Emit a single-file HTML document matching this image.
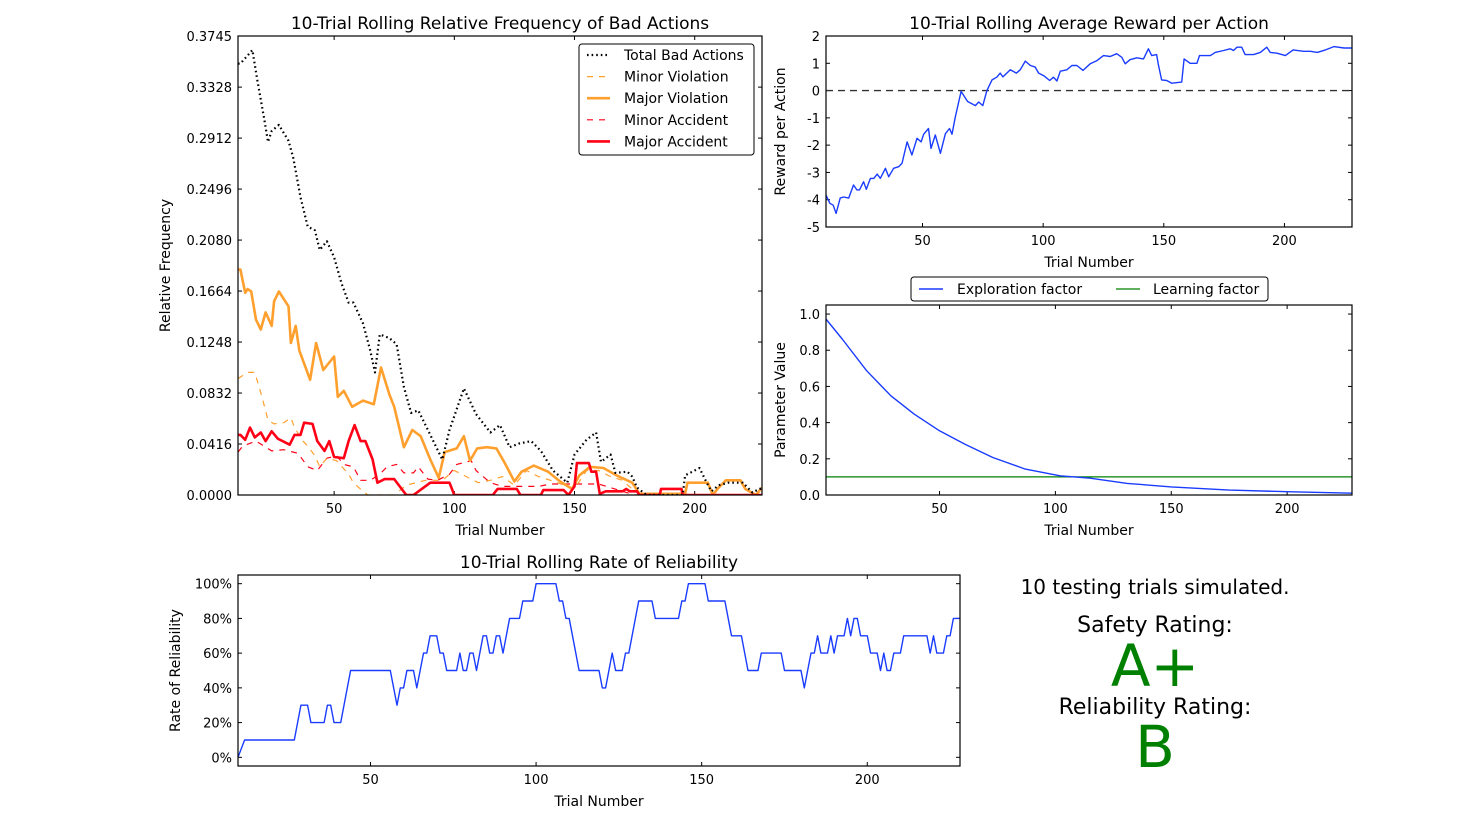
<!DOCTYPE html>
<html><head><meta charset="utf-8">
<style>
body{margin:0;background:#fff;}
svg{display:block;font-family:"DejaVu Sans","Liberation Sans",sans-serif;}
</style></head>
<body>
<svg id="fig" width="1462" height="829" viewBox="0 0 1462 829">
<text x="1155" y="594" font-size="20" text-anchor="middle">10 testing trials simulated.</text>
<text x="1155" y="632" font-size="22" text-anchor="middle">Safety Rating:</text>
<text x="1155" y="686" font-size="58" fill="#008000" text-anchor="middle">A+</text>
<text x="1155" y="714" font-size="22" text-anchor="middle">Reliability Rating:</text>
<text x="1155" y="767" font-size="58" fill="#008000" text-anchor="middle">B</text>
</svg>
<script>
// ---------- data ----------
const badTotalT=[10,11,16,18,21,22.5,24,27,31,33,36,39,42,44,47,50,53,56,58,62,65,67,69,73,76,79,82,85,89,93,95,98,104,109,115,119,123,127,132,136,141,147,150,155,159,161,165,167,172,174,176,180,195,196,202,205,207,210,214,220,224,227,228];
const badTotalV=[0.352,0.352,0.363,0.339,0.306,0.288,0.297,0.302,0.289,0.275,0.243,0.219,0.216,0.200,0.207,0.194,0.173,0.157,0.157,0.140,0.118,0.100,0.131,0.128,0.123,0.088,0.067,0.069,0.053,0.037,0.029,0.053,0.087,0.066,0.051,0.057,0.039,0.042,0.044,0.036,0.020,0.010,0.033,0.045,0.051,0.027,0.033,0.018,0.019,0.015,0.006,0,0,0.016,0.022,0.010,0.003,0.008,0.010,0.010,0.002,0.005,0.005];
const minViolT=[10,14,17,20,22.5,25,29,32,33.5,37,39,42,44,47,51,56,58,62,64,75,80,88,95,100,105,110,115,120,125,130,135,140,150,155,160,165,170,175,180,228];
const minViolV=[0.095,0.1,0.1,0.08,0.061,0.058,0.059,0.063,0.055,0.044,0.04,0.032,0.023,0.03,0.028,0.017,0.01,0.003,0,0,0.008,0.012,0.012,0.02,0.015,0.01,0.012,0.015,0.008,0.02,0.015,0.012,0.005,0.02,0.02,0.015,0.012,0.003,0,0];
const majViolT=[10,11,13,14,15.5,17.5,19.5,21.5,24,25,27,31,32,34,35.5,40,42.5,45.5,50,51.5,54,57.5,62,66.5,69.5,73,75,79,82.5,86,90,93.5,96,101,104,106.5,109.5,113.5,117.5,121,125,128,133,139,144,149,152,156.5,162,167.5,174,177,196,197,205.5,207.5,210,213,219,221,225.5,228];
const majViolV=[0.184,0.184,0.165,0.168,0.166,0.143,0.135,0.149,0.138,0.158,0.166,0.154,0.124,0.138,0.118,0.094,0.124,0.102,0.113,0.08,0.085,0.072,0.077,0.074,0.104,0.082,0.072,0.039,0.053,0.048,0.029,0.014,0.035,0.038,0.048,0.028,0.038,0.039,0.038,0.026,0.011,0.019,0.024,0.019,0.011,0.005,0.016,0.023,0.022,0.016,0.01,0.001,0.001,0.01,0.01,0,0.006,0.012,0.012,0.005,0,0.006];
const minAccT=[10,12,17.5,24,29,35,39,43,47,51,54,58,61,65,69,72,76,79,83,85,89,93,98,101,107,109,115,120,135,140,160,175,228];
const minAccV=[0.035,0.04,0.044,0.036,0.037,0.034,0.023,0.02,0.03,0.032,0.025,0.023,0.012,0.012,0.017,0.023,0.025,0.018,0.018,0.023,0.013,0.012,0.017,0.025,0.028,0.02,0.01,0.007,0.007,0.009,0.009,0,0];
const majAccT=[10,11,13,15,17,19.5,21.5,24,26.5,31.5,33.5,36,37.5,41,43,46,48,50,54,56,58.5,61,63,66,68,71,75,80,83,90,98,100,116,118,126,127.5,136,137,145.5,147.5,150,151,156,157,159,160.5,163,170,171.5,173,176,177,185.5,186,194.5,195,228];
const majAccV=[0.049,0.049,0.045,0.055,0.047,0.051,0.044,0.052,0.046,0.041,0.049,0.049,0.059,0.058,0.044,0.036,0.044,0.031,0.03,0.044,0.057,0.044,0.044,0.029,0.01,0.013,0.013,0,0,0.01,0.01,0,0,0.005,0.005,0,0,0.004,0.004,0,0.007,0.026,0.026,0.019,0.019,0.001,0.003,0.003,0.005,0.003,0.003,0,0,0.005,0.005,0,0];
const badTicks=["0.0000","0.0416","0.0832","0.1248","0.1664","0.2080","0.2496","0.2912","0.3328","0.3745"];

const rewardT=[10,11.6,13,14.2,15.9,17.3,19.4,21.4,22.8,23.9,25.6,26.7,28.4,29.8,31.2,32.5,34.6,36,38,40.1,41.5,43.6,45.6,47.7,49.4,50.5,52.5,53.5,55.3,57.4,59.5,61.2,62.2,63.6,66,68.7,71.9,73.3,75,76.7,78.8,80.8,82.2,83.3,86.4,88.9,90.5,92.6,94.7,96.7,98.1,100.2,102.7,104.3,105.7,107.1,109.8,111.9,114,116.5,119.5,122.3,125,127.8,130.5,132.6,134,136,138.8,141.6,143.6,145,147,147.7,149.1,151.2,153.3,157.4,158.4,160.9,163.7,164.8,169.3,171.3,174.8,177.5,178.9,180.3,182.3,183.7,187.2,190,192.7,194.1,196.9,200.4,203.6,208,210.8,213.6,217,220.5,224.7,228];
const rewardV=[-3.83,-4.13,-4.2,-4.5,-3.94,-3.9,-3.94,-3.46,-3.64,-3.64,-3.34,-3.62,-3.22,-3.22,-3.06,-3.22,-2.85,-3.16,-2.85,-2.79,-2.67,-1.88,-2.36,-1.75,-1.88,-1.6,-1.39,-2.12,-1.63,-2.3,-1.58,-1.39,-1.6,-0.97,-0.03,-0.4,-0.55,-0.42,-0.55,0.0,0.39,0.49,0.64,0.5,0.76,0.64,0.76,1.08,0.92,0.86,0.64,0.55,0.37,0.49,0.35,0.71,0.76,0.92,0.92,0.74,0.98,1.1,1.28,1.25,1.35,1.22,0.98,1.13,1.2,1.16,1.53,1.28,1.32,0.98,0.39,0.37,0.27,0.31,1.16,1.0,1.0,1.28,1.28,1.4,1.47,1.53,1.47,1.59,1.59,1.32,1.32,1.4,1.59,1.4,1.37,1.28,1.49,1.44,1.44,1.4,1.49,1.61,1.56,1.56];
const rewardTicks=[2,1,0,-1,-2,-3,-4,-5];

const paramT=[1,8,18.5,29,39,50,61,73,87,102,115,131,150,175,200,228];
const explorationV=[0.972,0.862,0.687,0.548,0.447,0.355,0.281,0.207,0.143,0.106,0.093,0.064,0.045,0.027,0.018,0.01];
const learningV=[0.1,0.1,0.1,0.1,0.1,0.1,0.1,0.1,0.1,0.1,0.1,0.1,0.1,0.1,0.1,0.1];
const paramTicks=[0,0.2,0.4,0.6,0.8,1.0];

const relT=[10,12,27,29,31,32,36,37,38,39,41,44,56,58,59,60,61,63,64,66,67,68,70,71,72,73,76,77,78,79,80,81,82,84,85,86,87,88,89,90,92,95,96,99,100,106,107,108,109,110,113,119,120,121,123,124,126,127,128,131,135,136,143,144,145,146,151,152,157,159,162,164,167,168,174,175,180,181,183,184,185,186,188,189,190,191,193,194,195,196,197,198,200,201,203,204,205,206,207,208,210,211,218,219,220,221,223,224,225,226,228];
const relV=[0,10,10,30,30,20,20,30,30,20,20,50,50,30,40,40,50,50,40,60,60,70,70,60,60,50,50,60,50,50,60,60,50,70,70,60,60,70,70,60,80,80,90,90,100,100,90,90,80,80,50,50,40,40,60,50,50,60,60,90,90,80,80,90,90,100,100,90,90,70,70,50,50,60,60,50,50,40,60,60,70,60,60,70,60,70,70,80,70,80,80,70,70,60,60,50,60,50,50,60,60,70,70,60,70,60,60,70,70,80,80];
const relTicks=[0,20,40,60,80,100];
const trialTicks=[50,100,150,200];

// ---------- drawing ----------
const NS="http://www.w3.org/2000/svg";
const svg=document.getElementById('fig');
function mk(tag,attrs,parent){const e=document.createElementNS(NS,tag);for(const k in attrs)e.setAttribute(k,attrs[k]);(parent||svg).appendChild(e);return e;}
function axis(L,R,T,B,x0,x1,y0,y1){return{L,R,T,B,sx:v=>L+(v-x0)/(x1-x0)*(R-L),sy:v=>B-(v-y0)/(y1-y0)*(B-T)};}
function frame(ax,name,yt,ylab,fmt,title,xlabel,ylabel,ylabX){
  const g=mk('g',{});
  
  
  for(const t of trialTicks){const x=ax.sx(t);
    mk('line',{x1:x,x2:x,y1:ax.B,y2:ax.B-4,stroke:'#000'},g);mk('line',{x1:x,x2:x,y1:ax.T,y2:ax.T+4,stroke:'#000'},g);
    const tx=mk('text',{x:x,y:ax.B+18,'font-size':13,'text-anchor':'middle'},g);tx.textContent=t;
    
    }
  yt.forEach((v,i)=>{const y=ax.sy(v);
    mk('line',{x1:ax.L,x2:ax.L+4,y1:y,y2:y,stroke:'#000'},g);mk('line',{x1:ax.R,x2:ax.R-4,y1:y,y2:y,stroke:'#000'},g);
    const tx=mk('text',{x:ax.L-6,y:y+5,'font-size':13,'text-anchor':'end'},g);tx.textContent=fmt(v,i);
    
    });
  const tt=mk('text',{x:(ax.L+ax.R)/2,y:ax.T-7,'font-size':17,'text-anchor':'middle'},g);tt.textContent=title;
  
  
  const xl=mk('text',{x:(ax.L+ax.R)/2,y:ax.B+40,'font-size':14,'text-anchor':'middle'},g);xl.textContent=xlabel;
  
  
  const cy=(ax.T+ax.B)/2;
  const yl=mk('text',{x:ylabX,y:cy,'font-size':14,'text-anchor':'middle',transform:`rotate(-90 ${ylabX} ${cy})`},g);yl.textContent=ylabel;
  
  
  return g;
}
function border(ax){const r=mk('rect',{x:ax.L,y:ax.T,width:ax.R-ax.L,height:ax.B-ax.T,fill:'none',stroke:'#000','stroke-width':1.2});
  
  }
function line(ax,xs,ys,style,name,clip){const pts=xs.map((t,i)=>ax.sx(t).toFixed(1)+','+ax.sy(ys[i]).toFixed(1)).join(' ');
  const p=mk('polyline',Object.assign({points:pts,fill:'none','stroke-linejoin':'round'},style));
  if(clip)p.setAttribute('clip-path',clip);
  
  return p;}
const defs=mk('defs',{});
function clipFor(ax,id){const c=mk('clipPath',{id:id},defs);mk('rect',{x:ax.L,y:ax.T,width:ax.R-ax.L,height:ax.B-ax.T},c);return `url(#${id})`;}

// Panel 1
const a1=axis(238,762,36,495,10,228,0,0.3745);
const c1=clipFor(a1,'c1');
frame(a1,'bad-actions-chart',badTicks.map(Number),null,(v,i)=>badTicks[i],'10-Trial Rolling Relative Frequency of Bad Actions','Trial Number','Relative Frequency',170);
const ORANGE='#ffa02e',RED='#ff0016',BLUE='#1a3cff';
line(a1,minAccT,minAccV,{stroke:RED,'stroke-width':1.2,'stroke-dasharray':'6,6'},'minor-accident-line',c1);
line(a1,minViolT,minViolV,{stroke:ORANGE,'stroke-width':1.2,'stroke-dasharray':'6,6'},'minor-violation-line',c1);
line(a1,majViolT,majViolV,{stroke:ORANGE,'stroke-width':2.6},'major-violation-line',c1);
line(a1,majAccT,majAccV,{stroke:RED,'stroke-width':2.6},'major-accident-line',c1);
line(a1,badTotalT,badTotalV,{stroke:'#000','stroke-width':2.2,'stroke-dasharray':'1.6,3'},'total-bad-actions-line',c1);
border(a1);
// legend 1
const lg=mk('g',{});


mk('rect',{x:579,y:44,width:175,height:111,rx:3,fill:'#fff',stroke:'#000','stroke-width':1},lg);
const legItems=[['Total Bad Actions','#000',2.2,'1.6,3'],['Minor Violation',ORANGE,1.2,'6,6'],['Major Violation',ORANGE,2.6,''],['Minor Accident',RED,1.2,'6,6'],['Major Accident',RED,2.6,'']];
legItems.forEach((it,i)=>{const y=55+i*21.6;
  const e=mk('g',{},lg);
  
  
  mk('line',{x1:587,x2:610,y1:y,y2:y,stroke:it[1],'stroke-width':it[2],'stroke-dasharray':it[3]},e);
  const t=mk('text',{x:624,y:y+5,'font-size':14},e);t.textContent=it[0];});

// Panel 2
const a2=axis(826,1352,36,227,10,228,-5,2);
const c2=clipFor(a2,'c2');
frame(a2,'reward-chart',rewardTicks,null,v=>String(v),'10-Trial Rolling Average Reward per Action','Trial Number','Reward per Action',785);
const zl=mk('line',{x1:a2.L,x2:a2.R,y1:a2.sy(0),y2:a2.sy(0),stroke:'#333','stroke-width':1.4,'stroke-dasharray':'7,5'});


line(a2,rewardT,rewardV,{stroke:BLUE,'stroke-width':1.4},'reward-line',c2);
border(a2);

// Panel 3
const a3=axis(826,1352,305,495,1,228,0,1.05);
const c3=clipFor(a3,'c3');
frame(a3,'parameter-chart',paramTicks,null,v=>v.toFixed(1),'','Trial Number','Parameter Value',785);
line(a3,paramT,learningV,{stroke:'#008000','stroke-width':1.2},'learning-factor-line',c3);
line(a3,paramT,explorationV,{stroke:BLUE,'stroke-width':1.4},'exploration-factor-line',c3);
border(a3);
const lg3=mk('g',{});


mk('rect',{x:911,y:277,width:357,height:24,rx:3,fill:'#fff',stroke:'#000'},lg3);
mk('line',{x1:919,x2:943,y1:289,y2:289,stroke:BLUE,'stroke-width':1.4},lg3);
let t3=mk('text',{x:957,y:294,'font-size':14},lg3);t3.textContent='Exploration factor';
mk('line',{x1:1116,x2:1140,y1:289,y2:289,stroke:'#008000','stroke-width':1.2},lg3);
t3=mk('text',{x:1153,y:294,'font-size':14},lg3);t3.textContent='Learning factor';

// Panel 4
const a4=axis(238,960,575,766,10,228,-5,105);
const c4=clipFor(a4,'c4');
frame(a4,'reliability-chart',relTicks,null,v=>v+'%','10-Trial Rolling Rate of Reliability','Trial Number','Rate of Reliability',180);
line(a4,relT,relV,{stroke:BLUE,'stroke-width':1.4},'reliability-line',c4);
border(a4);
</script>
</body></html>
